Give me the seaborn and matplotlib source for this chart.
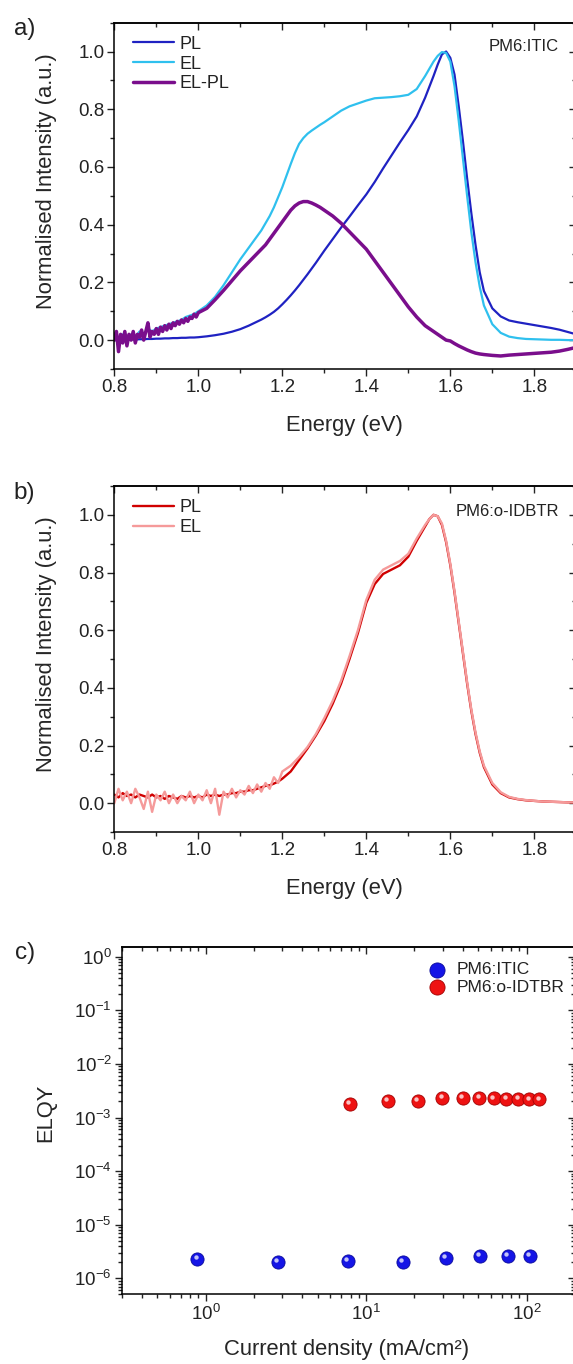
import numpy as np
import matplotlib
matplotlib.use("Agg")
import matplotlib.pyplot as plt
from matplotlib.ticker import MultipleLocator, FixedLocator, NullFormatter
from matplotlib.transforms import offset_copy
import seaborn as sns

# ---- panel a: PM6:ITIC normalised spectra ----
energy_a = [0.80, 0.81, 0.82, 0.83, 0.84, 0.85, 0.86, 0.87, 0.88, 0.89, 0.90,
            0.91, 0.92, 0.93, 0.94, 0.95, 0.96, 0.97, 0.98, 0.99, 1.00,
            1.02, 1.04, 1.06, 1.08, 1.10, 1.12,
            1.14, 1.15, 1.16, 1.17, 1.18, 1.19, 1.20, 1.21, 1.22, 1.23, 1.24,
            1.25, 1.26, 1.27, 1.28, 1.29, 1.30,
            1.32, 1.34, 1.36, 1.38, 1.40, 1.42, 1.44, 1.46, 1.48, 1.50, 1.52, 1.54, 1.56,
            1.57, 1.58, 1.59, 1.60, 1.61, 1.62, 1.63, 1.64, 1.65, 1.66, 1.67, 1.68,
            1.70, 1.72, 1.74, 1.76, 1.78, 1.80, 1.82, 1.84, 1.86, 1.88, 1.90]
pl_a = [0.000, 0.000, 0.001, 0.001, 0.002, 0.002, 0.003, 0.003, 0.004, 0.004, 0.005,
        0.005, 0.006, 0.006, 0.007, 0.007, 0.008, 0.008, 0.009, 0.009, 0.010,
        0.013, 0.017, 0.022, 0.029, 0.038, 0.050,
        0.064, 0.071, 0.079, 0.088, 0.098, 0.110, 0.124, 0.139, 0.155, 0.172, 0.190,
        0.209, 0.228, 0.248, 0.268, 0.289, 0.310,
        0.350, 0.390, 0.428, 0.467, 0.505, 0.548, 0.595, 0.640, 0.685, 0.728, 0.775, 0.840, 0.915,
        0.955, 0.990, 1.000, 0.978, 0.920, 0.810, 0.690, 0.560, 0.440, 0.330, 0.235, 0.170,
        0.110, 0.082, 0.068, 0.062, 0.057, 0.052, 0.047, 0.042, 0.036, 0.028, 0.020]
el_a = [0.010, -0.010, 0.020, 0.000, 0.020, 0.010, 0.030, 0.020, 0.040, 0.030, 0.040,
        0.045, 0.050, 0.055, 0.060, 0.065, 0.070, 0.080, 0.085, 0.090, 0.100,
        0.120, 0.150, 0.190, 0.235, 0.280, 0.320,
        0.360, 0.380, 0.405, 0.430, 0.460, 0.495, 0.530, 0.570, 0.610, 0.648, 0.680,
        0.700, 0.715, 0.726, 0.736, 0.746, 0.755,
        0.775, 0.795, 0.810, 0.820, 0.830, 0.838, 0.840, 0.842, 0.845, 0.850, 0.870, 0.915, 0.965,
        0.985, 0.998, 0.995, 0.965, 0.880, 0.760, 0.630, 0.500, 0.375, 0.270, 0.185, 0.120,
        0.055, 0.025, 0.012, 0.007, 0.004, 0.003, 0.002, 0.001, 0.001, 0.000, 0.000]
energy_elpl = [0.800, 0.805, 0.810, 0.815, 0.820, 0.825, 0.830, 0.835, 0.840, 0.845,
               0.850, 0.855, 0.860, 0.865, 0.870, 0.875, 0.880, 0.885, 0.890, 0.895,
               0.900, 0.905, 0.910, 0.915, 0.920, 0.925, 0.930, 0.935, 0.940, 0.945,
               0.950, 0.955, 0.960, 0.965, 0.970, 0.975, 0.980, 0.985, 0.990, 0.995, 1.000,
               1.02, 1.04, 1.06, 1.08, 1.10, 1.12,
               1.14, 1.15, 1.16, 1.17, 1.18, 1.19, 1.20, 1.21, 1.22, 1.23, 1.24,
               1.25, 1.26, 1.27, 1.28, 1.29, 1.30,
               1.32, 1.34, 1.36, 1.38, 1.40, 1.42, 1.44, 1.46, 1.48, 1.50, 1.52, 1.54, 1.56,
               1.57, 1.58, 1.59, 1.60, 1.61, 1.62, 1.63, 1.64, 1.65, 1.66, 1.67, 1.68,
               1.70, 1.72, 1.74, 1.76, 1.78, 1.80, 1.82, 1.84, 1.86, 1.88, 1.90]
elpl_a = [0.000, 0.030, -0.040, 0.020, -0.010, 0.030, -0.020, 0.020, 0.000, 0.030,
          -0.010, 0.020, 0.010, 0.035, 0.000, 0.030, 0.060, 0.010, 0.030, 0.020,
          0.040, 0.020, 0.045, 0.030, 0.050, 0.035, 0.055, 0.040, 0.060, 0.050,
          0.065, 0.055, 0.070, 0.060, 0.075, 0.065, 0.080, 0.075, 0.090, 0.080, 0.095,
          0.110, 0.140, 0.172, 0.206, 0.240, 0.270,
          0.300, 0.315, 0.330, 0.350, 0.370, 0.390, 0.410, 0.430, 0.450, 0.465, 0.475,
          0.480, 0.480, 0.475, 0.468, 0.460, 0.450,
          0.430, 0.405, 0.375, 0.345, 0.315, 0.275, 0.235, 0.195, 0.155, 0.115, 0.080, 0.050, 0.030,
          0.020, 0.010, 0.000, -0.003, -0.012, -0.020, -0.027, -0.034, -0.040, -0.045, -0.048, -0.050,
          -0.053, -0.055, -0.052, -0.050, -0.048, -0.046, -0.044, -0.042, -0.038, -0.032, -0.025]

# ---- panel b: PM6:o-IDTBR normalised spectra ----
energy_b = [0.80, 0.81, 0.82, 0.83, 0.84, 0.85, 0.86, 0.87, 0.88, 0.89, 0.90,
            0.91, 0.92, 0.93, 0.94, 0.95, 0.96, 0.97, 0.98, 0.99, 1.00,
            1.01, 1.02, 1.03, 1.04, 1.05, 1.06, 1.07, 1.08, 1.09, 1.10,
            1.11, 1.12, 1.13, 1.14, 1.15, 1.16, 1.17, 1.18, 1.19, 1.20,
            1.22, 1.24, 1.26, 1.28, 1.30, 1.32, 1.34, 1.36, 1.38, 1.40,
            1.42, 1.44, 1.46, 1.48, 1.50, 1.52, 1.54,
            1.55, 1.56, 1.57, 1.58, 1.59, 1.60, 1.61, 1.62, 1.63, 1.64, 1.65, 1.66, 1.67, 1.68,
            1.70, 1.72, 1.74, 1.76, 1.78, 1.80, 1.82, 1.84, 1.86, 1.88, 1.90]
pl_b = [0.030, 0.020, 0.035, 0.025, 0.030, 0.020, 0.030, 0.025, 0.020, 0.030, 0.020,
        0.025, 0.015, 0.025, 0.020, 0.015, 0.025, 0.020, 0.025, 0.020, 0.025,
        0.020, 0.030, 0.025, 0.030, 0.025, 0.030, 0.030, 0.035, 0.035, 0.040,
        0.040, 0.045, 0.045, 0.050, 0.055, 0.060, 0.062, 0.068, 0.075, 0.085,
        0.110, 0.150, 0.190, 0.235, 0.285, 0.345, 0.415, 0.500, 0.590, 0.695,
        0.760, 0.795, 0.810, 0.825, 0.855, 0.910, 0.960,
        0.985, 1.000, 0.995, 0.965, 0.905, 0.825, 0.730, 0.625, 0.520, 0.415, 0.320, 0.240, 0.175, 0.125,
        0.065, 0.035, 0.020, 0.014, 0.010, 0.008, 0.006, 0.005, 0.004, 0.003, 0.003]
el_b = [0.000, 0.050, 0.010, 0.040, 0.000, 0.050, 0.020, -0.020, 0.040, -0.030, 0.030,
        0.010, 0.040, 0.000, 0.030, 0.000, 0.025, 0.010, 0.040, 0.000, 0.030,
        0.010, 0.045, 0.000, 0.050, -0.040, 0.040, 0.020, 0.050, 0.020, 0.045,
        0.030, 0.060, 0.035, 0.065, 0.040, 0.070, 0.050, 0.090, 0.070, 0.110,
        0.130, 0.160, 0.195, 0.240, 0.295, 0.355, 0.425, 0.510, 0.600, 0.705,
        0.775, 0.810, 0.825, 0.840, 0.865, 0.918, 0.965,
        0.985, 1.000, 0.995, 0.970, 0.910, 0.830, 0.735, 0.630, 0.525, 0.420, 0.325, 0.245, 0.180, 0.130,
        0.070, 0.038, 0.022, 0.015, 0.011, 0.008, 0.006, 0.005, 0.004, 0.003, 0.003]

# ---- panel c: ELQY vs current density ----
j_itic = [0.89, 2.83, 7.69, 16.9, 31.4, 51.3, 76.4, 105]
elqy_itic = [2.30e-6, 2.02e-6, 2.10e-6, 2.02e-6, 2.40e-6, 2.58e-6, 2.65e-6, 2.65e-6]
j_idtbr = [7.9, 13.7, 21.0, 29.9, 39.9, 50.7, 62.2, 74.7, 88.7, 104, 120]
elqy_idtbr = [1.79e-3, 2.06e-3, 2.06e-3, 2.31e-3, 2.31e-3, 2.31e-3,
              2.28e-3, 2.25e-3, 2.22e-3, 2.19e-3, 2.19e-3]

# axis ranges and log tick decades of panel c
c_xlim = (0.3, 200)
c_ylim = (5e-7, 1.5)
c_xdecades = [1, 10, 100]
c_ydecades = [1e-6, 1e-5, 1e-4, 1e-3, 1e-2, 1e-1, 1e0]

sns.set_theme(style="ticks")
plt.rcParams["font.family"] = ["Liberation Sans", "DejaVu Sans"]
plt.rcParams["mathtext.fontset"] = "custom"
plt.rcParams["mathtext.rm"] = "Liberation Sans"
plt.rcParams["mathtext.default"] = "regular"
plt.rcParams["axes.unicode_minus"] = False
plt.rcParams["axes.edgecolor"] = "black"
plt.rcParams["text.color"] = "#222222"

fig = plt.figure(figsize=(5.73, 13.64), dpi=100)
ax_a = fig.add_axes([0.1995, 0.7295, 0.8063, 0.2539])
ax_b = fig.add_axes([0.1995, 0.3900, 0.8063, 0.2537])
ax_c = fig.add_axes([0.2122, 0.0510, 0.7913, 0.2544])


def log_minors(lo, hi):
    out = []
    for k in range(int(np.floor(np.log10(lo))), int(np.ceil(np.log10(hi))) + 1):
        for m in range(2, 10):
            v = m * 10.0 ** k
            if lo <= v <= hi:
                out.append(v)
    return out


def dress(ax, log=False):
    for sp in ax.spines.values():
        sp.set_linewidth(1.1)
    ax.tick_params(which="both", direction="out", top=False, right=False,
                   labelsize=13.5, width=1.0, pad=2, colors="#222222")
    ax.tick_params(which="major", length=5)
    ax.tick_params(which="minor", length=3)
    top = ax.secondary_xaxis("top")
    right = ax.secondary_yaxis("right")
    if log:
        for a in (ax.xaxis, top.xaxis):
            a.set_major_locator(FixedLocator(c_xdecades))
            a.set_minor_locator(FixedLocator(log_minors(*c_xlim)))
            a.set_minor_formatter(NullFormatter())
        for a in (ax.yaxis, right.yaxis):
            a.set_major_locator(FixedLocator(c_ydecades))
            a.set_minor_locator(FixedLocator(log_minors(*c_ylim)))
            a.set_minor_formatter(NullFormatter())
    else:
        for a in (ax.xaxis, top.xaxis, ax.yaxis, right.yaxis):
            a.set_major_locator(MultipleLocator(0.2))
            a.set_minor_locator(MultipleLocator(0.1))
    for sec in (top, right):
        sec.tick_params(which="both", direction="in", width=1.0, labelleft=False,
                        labelright=False, labeltop=False, labelbottom=False)
        sec.tick_params(which="major", length=5)
        sec.tick_params(which="minor", length=3)
        for sp in sec.spines.values():
            sp.set_linewidth(1.1)


# panel a
sns.lineplot(x=energy_a, y=pl_a, ax=ax_a, color="#1f22c2", lw=1.6, label="PL",
             estimator=None, sort=False)
sns.lineplot(x=energy_a, y=el_a, ax=ax_a, color="#2fc0ee", lw=1.6, label="EL",
             estimator=None, sort=False)
sns.lineplot(x=energy_elpl, y=elpl_a, ax=ax_a, color="#7a0e8c", lw=2.5, label="EL-PL",
             estimator=None, sort=False)
ax_a.set_xlim(0.8, 1.9)
ax_a.set_ylim(-0.1, 1.1)
dress(ax_a)
ax_a.text(0.962, 0.930, "PM6:ITIC", transform=ax_a.transAxes, ha="right",
          va="center", fontsize=12)

# panel b
sns.lineplot(x=energy_b, y=pl_b, ax=ax_b, color="#d00000", lw=1.7, label="PL",
             estimator=None, sort=False)
sns.lineplot(x=energy_b, y=el_b, ax=ax_b, color="#f59a9a", lw=1.7, label="EL",
             estimator=None, sort=False)
ax_b.set_xlim(0.8, 1.9)
ax_b.set_ylim(-0.1, 1.1)
dress(ax_b)
ax_b.text(0.962, 0.926, "PM6:o-IDBTR", transform=ax_b.transAxes, ha="right",
          va="center", fontsize=12)

for ax in (ax_a, ax_b):
    ax.legend(loc="upper left", bbox_to_anchor=(0.040, 0.962), frameon=False,
              fontsize=13, handlelength=2.3, handletextpad=0.28, labelspacing=0.15,
              borderpad=0, borderaxespad=0)
    ax.set_xlabel("Energy (eV)", fontsize=15.8)
    ax.set_ylabel("Normalised Intensity (a.u.)", fontsize=15.8)
    ax.xaxis.label.set_va("center")
    ax.xaxis.set_label_coords(0.499, -0.162)
    ax.yaxis.label.set_va("center")
    ax.yaxis.set_label_coords(-0.1457, 0.542)

# panel c
ax_c.set_xscale("log")
ax_c.set_yscale("log")
sns.scatterplot(x=j_itic, y=elqy_itic, ax=ax_c, color="#1515e6", s=90,
                edgecolor="#0a0a9a", linewidth=0.6, label="PM6:ITIC", zorder=3)
sns.scatterplot(x=j_idtbr, y=elqy_idtbr, ax=ax_c, color="#ee1212", s=90,
                edgecolor="#a00000", linewidth=0.6, label="PM6:o-IDTBR", zorder=3)
shine = offset_copy(ax_c.transData, fig=fig, x=-1.8, y=1.8, units="dots")
ax_c.scatter(j_itic, elqy_itic, s=10, color="white", alpha=0.75, lw=0,
             transform=shine, zorder=4)
ax_c.scatter(j_idtbr, elqy_idtbr, s=10, color="white", alpha=0.75, lw=0,
             transform=shine, zorder=4)
ax_c.set_xlim(*c_xlim)
ax_c.set_ylim(*c_ylim)
dress(ax_c, log=True)
ax_c.legend(loc="upper right", bbox_to_anchor=(0.976, 0.958), frameon=False,
            fontsize=12.5, handlelength=0.8, handletextpad=0.7, labelspacing=0.15,
            borderpad=0, borderaxespad=0, markerscale=1.15)
ax_c.set_xlabel("Current density (mA/cm²)", fontsize=15.8)
ax_c.set_ylabel("ELQY", fontsize=15.8)
ax_c.xaxis.label.set_va("center")
ax_c.xaxis.set_label_coords(0.497, -0.158)
ax_c.yaxis.label.set_va("center")
ax_c.yaxis.set_label_coords(-0.1667, 0.523)

# panel letters
for letter, ypix in (("a)", 29), ("b)", 493), ("c)", 953)):
    fig.text(24.7 / 573, 1 - ypix / 1364, letter, ha="center", va="center",
             fontsize=17.5)

fig.savefig("out.png", dpi=100)
